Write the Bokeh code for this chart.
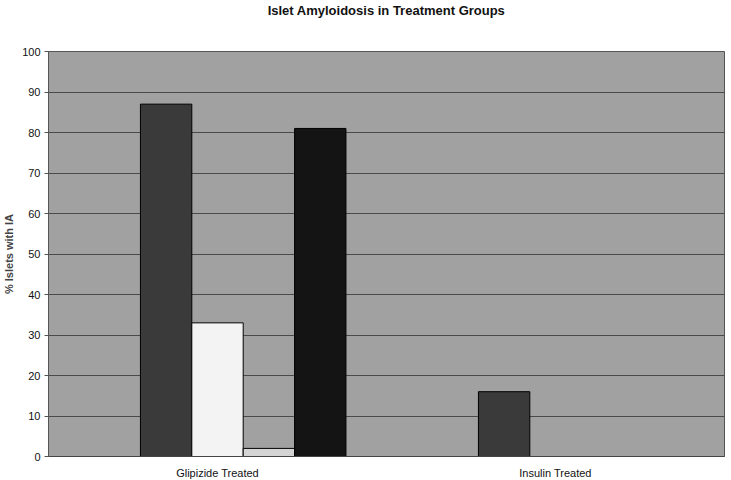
from bokeh.plotting import figure
from bokeh.models import ColumnDataSource, FactorRange, Range1d, FixedTicker, Title
from bokeh.transform import dodge
from bokeh.embed import file_html
from bokeh.resources import INLINE

# ---- data ----
categories = ["Glipizide Treated", "Insulin Treated"]
series_1 = [87, 16]
series_2 = [33, 0]
series_3 = [2, 0]
series_4 = [81, 0]
y_ticks = [0, 10, 20, 30, 40, 50, 60, 70, 80, 90, 100]

title_text = "Islet Amyloidosis in Treatment Groups"
y_label = "% Islets with IA"

source = ColumnDataSource(dict(cat=categories, s1=series_1, s2=series_2, s3=series_3, s4=series_4))

p = figure(
    title=None,
    frame_width=676, frame_height=405,
    x_range=FactorRange(*categories, range_padding=0),
    y_range=Range1d(0, 100),
    output_backend="svg", toolbar_location=None,
    min_border_left=46, min_border_right=1, min_border_top=51, min_border_bottom=22,
    background_fill_color="#a1a1a1", border_fill_color="white",
)

# spacer between frame and title, then the title itself (stacked outward)
p.add_layout(Title(text=" ", text_font_size="13px", standoff=17), "above")
p.add_layout(Title(text=title_text, align="center", text_font="Liberation Sans",
                   text_font_size="13px", text_font_style="bold", text_color="#111111",
                   standoff=0), "above")

bw = 0.152
colors = ["#3a3a3a", "#f3f3f3", "#d4d4d4", "#141414"]
offsets = [-bw, 0.0, bw, 2 * bw]
for col, off, c in zip(["s1", "s2", "s3", "s4"], offsets, colors):
    p.vbar(x=dodge("cat", off, range=p.x_range), top=col, width=bw, source=source,
           fill_color=c, line_color="#000000", line_width=1)

p.outline_line_color = "#555555"
p.outline_line_width = 1

p.xgrid.grid_line_color = None
p.ygrid.ticker = FixedTicker(ticks=y_ticks)
p.ygrid.grid_line_color = "#4a4a4a"
p.ygrid.grid_line_width = 1

p.yaxis.ticker = FixedTicker(ticks=y_ticks)
p.yaxis.axis_label = y_label
p.yaxis.axis_label_text_font = "Liberation Sans"
p.yaxis.axis_label_text_font_size = "11px"
p.yaxis.axis_label_text_font_style = "bold"
p.yaxis.axis_label_standoff = 4
p.yaxis.major_label_text_font = "Liberation Sans"
p.yaxis.major_label_text_font_size = "11px"
p.yaxis.major_label_text_color = "#111111"
p.yaxis.major_label_standoff = 4
p.yaxis.major_tick_out = 4
p.yaxis.major_tick_in = 0
p.yaxis.minor_tick_line_color = None
p.yaxis.axis_line_color = "#555555"
p.yaxis.major_tick_line_color = "#555555"

p.xaxis.major_label_text_font = "Liberation Sans"
p.xaxis.major_label_text_font_size = "11px"
p.xaxis.major_label_text_color = "#111111"
p.xaxis.major_label_standoff = 4
p.xaxis.major_tick_line_color = None
p.xaxis.axis_line_color = "#444444"

open("out.html", "w").write(file_html(p, INLINE))
